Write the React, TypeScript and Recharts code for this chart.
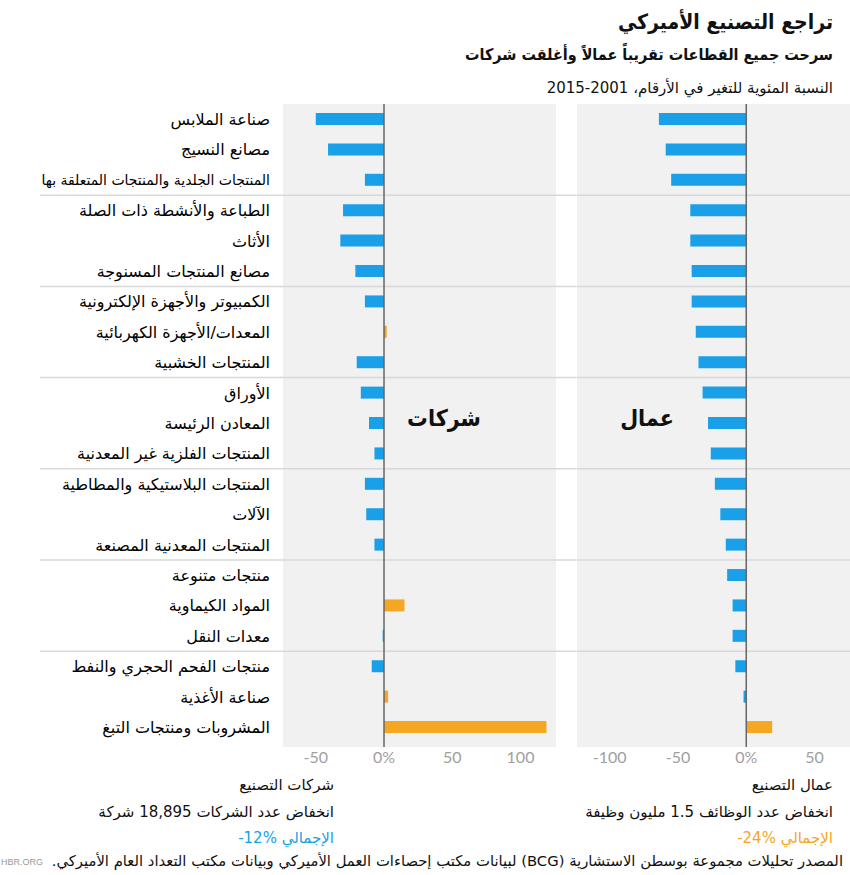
import React from "react";
import { BarChart, Bar, XAxis, YAxis, Cell, ReferenceLine, ReferenceArea } from "recharts";

const CATEGORIES = [
  "صناعة الملابس",
  "مصانع النسيج",
  "المنتجات الجلدية والمنتجات المتعلقة بها",
  "الطباعة والأنشطة ذات الصلة",
  "الأثاث",
  "مصانع المنتجات المسنوجة",
  "الكمبيوتر والأجهزة الإلكترونية",
  "المعدات/الأجهزة الكهربائية",
  "المنتجات الخشبية",
  "الأوراق",
  "المعادن الرئيسة",
  "المنتجات الفلزية غير المعدنية",
  "المنتجات البلاستيكية والمطاطية",
  "الآلات",
  "المنتجات المعدنية المصنعة",
  "منتجات متنوعة",
  "المواد الكيماوية",
  "معدات النقل",
  "منتجات الفحم الحجري والنفط",
  "صناعة الأغذية",
  "المشروبات ومنتجات التبغ",
];

const FIRMS = [-50, -41, -14, -30, -32, -21, -14, 2, -20, -17, -11, -7, -14, -13, -7, 0, 15, -1, -9, 3, 119];
const WORKERS = [-64, -59, -55, -41, -41, -40, -40, -37, -35, -32, -28, -26, -23, -19, -15, -14, -10, -10, -8, -2, 19];

const FIRM_TICKS = [-50, 0, 50, 100];
const WORKER_TICKS = [-100, -50, 0, 50];
const FIRM_DOMAIN = [-74, 126];
const WORKER_DOMAIN = [-124, 76];
const GROUP_SIZE = 3;

const BLUE = "#19a0e8";
const ORANGE = "#f5a623";
const BG = "#f1f1f1";
const SEP = "#d8d8d8";
const FONT = "'DejaVu Sans', sans-serif";
const COND = "'DejaVu Sans Condensed', 'DejaVu Sans', sans-serif";

const rows = CATEGORIES.map((name, i) => ({ idx: i, name, firms: FIRMS[i], workers: WORKERS[i] }));
const indices = rows.map((r) => r.idx);
const separators = indices
  .filter((i) => i > 0 && i % GROUP_SIZE === 0)
  .map((i) => i - 0.5);
const Y_DOMAIN = [-0.5, CATEGORIES.length - 0.35];

const tickFmt = (v: number) => (v === 0 ? "0%" : String(v));

const CategoryTick = ({ x, y, payload }: any) => {
  const label = CATEGORIES[payload.value] ?? "";
  const size = label.length > 32 ? 14 : 16;
  return (
    <text x={x} y={y} dy="0.36em" textAnchor="end" fill="#000" fontSize={size} fontFamily={FONT}>
      {label}
    </text>
  );
};

const Txt = ({ right, y, size, weight = 400, color = "#111", family = FONT, children }: any) => (
  <div
    style={{
      position: "absolute",
      right: 850 - right,
      top: y - size * 0.75,
      fontSize: size,
      lineHeight: `${size * 1.5}px`,
      fontWeight: weight,
      color,
      whiteSpace: "nowrap",
      direction: "rtl",
      fontFamily: family,
    }}
  >
    {children}
  </div>
);

const Center = ({ x, y, size, children }: any) => (
  <div
    style={{
      position: "absolute",
      left: x,
      top: y - size * 0.75,
      transform: "translateX(-50%)",
      fontSize: size,
      lineHeight: `${size * 1.5}px`,
      fontWeight: 700,
      color: "#111",
      whiteSpace: "nowrap",
      direction: "rtl",
      fontFamily: COND,
    }}
  >
    {children}
  </div>
);

const axisTick = { fill: "#a0a0a0", fontSize: 16, fontFamily: "Lato, sans-serif" };

export default function App() {
  return (
    <div style={{ position: "absolute", left: 0, top: 0, width: 850, height: 875, background: "#fff", fontFamily: FONT, overflow: "hidden" }}>
      <Txt right={833} y={23} size={21} weight={700} family={COND}>تراجع التصنيع الأميركي</Txt>
      <Txt right={833} y={55} size={16} weight={700} family={COND}>سرحت جميع القطاعات تقريباً عمالاً وأغلقت شركات</Txt>
      <Txt right={833} y={88} size={15}>النسبة المئوية للتغير في الأرقام، 2001-2015</Txt>

      <div style={{ position: "absolute", left: 0, top: 0 }}>
        <BarChart
          width={577}
          height={777}
          data={rows}
          layout="vertical"
          margin={{ top: 104, right: 21, bottom: 0, left: 0 }}
        >
          <XAxis
            type="number"
            dataKey="firms"
            domain={FIRM_DOMAIN}
            ticks={FIRM_TICKS}
            tickFormatter={tickFmt}
            axisLine={false}
            tickLine={false}
            tickSize={0}
            tickMargin={5}
            height={30}
            tick={axisTick}
            allowDataOverflow
          />
          <YAxis
            type="number"
            dataKey="idx"
            domain={Y_DOMAIN}
            ticks={indices}
            interval={0}
            allowDataOverflow
            width={283}
            axisLine={false}
            tickLine={false}
            tickSize={0}
            tickMargin={13}
            tick={<CategoryTick />}
          />
          <ReferenceArea x1={FIRM_DOMAIN[0]} x2={FIRM_DOMAIN[1]} y1={Y_DOMAIN[0]} y2={Y_DOMAIN[1]} fill={BG} fillOpacity={1} stroke="none" />
          {separators.map((s) => (
            <ReferenceLine
              key={s}
              ifOverflow="visible"
              segment={[{ x: -252, y: s }, { x: 141, y: s }]}
              stroke={SEP}
              strokeWidth={1.5}
            />
          ))}
          <Bar dataKey="firms" barSize={12} isAnimationActive={false}>
            {rows.map((r) => (
              <Cell key={r.idx} fill={r.firms >= 0 ? ORANGE : BLUE} />
            ))}
          </Bar>
          <ReferenceLine x={0} stroke="#666" strokeWidth={1.5} />
        </BarChart>
      </div>

      <div style={{ position: "absolute", left: 577, top: 0 }}>
        <BarChart
          width={273}
          height={777}
          data={rows}
          layout="vertical"
          margin={{ top: 104, right: 0, bottom: 0, left: 0 }}
        >
          <XAxis
            type="number"
            dataKey="workers"
            domain={WORKER_DOMAIN}
            ticks={WORKER_TICKS}
            tickFormatter={tickFmt}
            axisLine={false}
            tickLine={false}
            tickSize={0}
            tickMargin={5}
            height={30}
            tick={axisTick}
            allowDataOverflow
          />
          <YAxis type="number" dataKey="idx" domain={Y_DOMAIN} ticks={indices} allowDataOverflow hide width={0} />
          <ReferenceArea x1={WORKER_DOMAIN[0]} x2={WORKER_DOMAIN[1]} y1={Y_DOMAIN[0]} y2={Y_DOMAIN[1]} fill={BG} fillOpacity={1} stroke="none" />
          {separators.map((s) => (
            <ReferenceLine key={s} y={s} stroke={SEP} strokeWidth={1.5} />
          ))}
          <Bar dataKey="workers" barSize={12} isAnimationActive={false}>
            {rows.map((r) => (
              <Cell key={r.idx} fill={r.workers >= 0 ? ORANGE : BLUE} />
            ))}
          </Bar>
          <ReferenceLine x={0} stroke="#666" strokeWidth={1.5} />
        </BarChart>
      </div>

      <Center x={444} y={418} size={23}>شركات</Center>
      <Center x={647} y={418} size={23}>عمال</Center>

      <Txt right={334} y={785} size={15}>شركات التصنيع</Txt>
      <Txt right={334} y={812} size={15}>انخفاض عدد الشركات 18,895 شركة</Txt>
      <Txt right={334} y={838} size={15} color={BLUE}>الإجمالي %12-</Txt>

      <Txt right={833} y={785} size={15}>عمال التصنيع</Txt>
      <Txt right={833} y={812} size={15}>انخفاض عدد الوظائف 1.5 مليون وظيفة</Txt>
      <Txt right={833} y={838} size={15} color={ORANGE}>الإجمالي %24-</Txt>

      <Txt right={843} y={861} size={14.8}>المصدر تحليلات مجموعة بوسطن الاستشارية (BCG) لبيانات مكتب إحصاءات العمل الأميركي وبيانات مكتب التعداد العام الأميركي.</Txt>
      <div style={{ position: "absolute", left: 1, top: 857, fontSize: 9, color: "#999", fontFamily: "Arial, sans-serif", whiteSpace: "nowrap" }}>HBR.ORG</div>
    </div>
  );
}
